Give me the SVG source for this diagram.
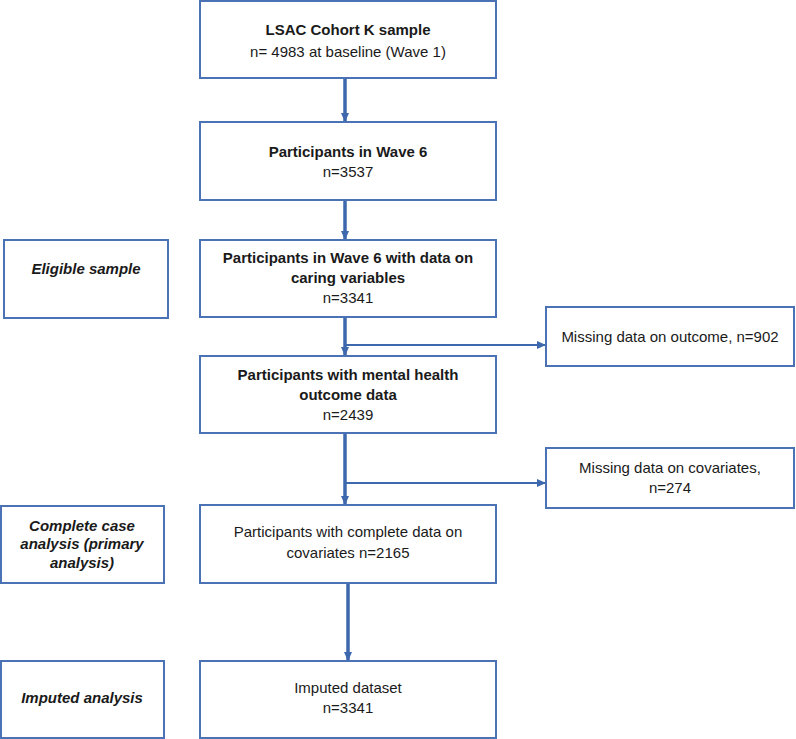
<svg xmlns="http://www.w3.org/2000/svg" width="796" height="739" viewBox="0 0 796 739">
<style>
.box{fill:#fff;stroke:#4a72b5;stroke-width:2}
.t{font-family:"Liberation Sans",Arial,sans-serif;font-size:15px;fill:#1a1a1a;text-anchor:middle}
.b{font-weight:bold}
.i{font-style:italic;font-weight:bold}
.c{stroke:#3e68ad;stroke-width:3.5;fill:none}
.h{stroke-width:2.2}
</style>
<defs>
<marker id="ah" markerUnits="userSpaceOnUse" markerWidth="9" markerHeight="8" refX="8" refY="4" orient="auto">
<path d="M0,0 L9,4 L0,8 z" fill="#3e68ad"/>
</marker>
</defs>
<rect width="796" height="739" fill="#fff"/>
<g id="connectors">
<line class="c" x1="345" y1="78" x2="345" y2="121" marker-end="url(#ah)"/>
<line class="c" x1="345" y1="200" x2="345" y2="239" marker-end="url(#ah)"/>
<line class="c" x1="345" y1="318" x2="345" y2="355" marker-end="url(#ah)"/>
<line class="c h" x1="345" y1="345" x2="545" y2="345" marker-end="url(#ah)"/>
<line class="c" x1="345" y1="433" x2="345" y2="504" marker-end="url(#ah)"/>
<line class="c h" x1="345" y1="483" x2="545" y2="483" marker-end="url(#ah)"/>
<line class="c" x1="348" y1="583" x2="348" y2="660" marker-end="url(#ah)"/>
</g>
<g id="n1"><rect class="box" x="200" y="1" width="296" height="77"/>
<text class="t b" x="348" y="35">LSAC Cohort K sample</text>
<text class="t" x="348" y="57">n= 4983 at baseline (Wave 1)</text></g>
<g id="n2"><rect class="box" x="200" y="122" width="296" height="78"/>
<text class="t b" x="348" y="157">Participants in Wave 6</text>
<text class="t" x="348" y="177">n=3537</text></g>
<g id="n3"><rect class="box" x="200" y="240" width="296" height="77"/>
<text class="t b" x="348" y="263">Participants in Wave 6 with data on</text>
<text class="t b" x="348" y="283">caring variables</text>
<text class="t" x="348" y="303">n=3341</text></g>
<g id="eligible"><rect class="box" x="4" y="240" width="164" height="78"/>
<text class="t i" x="86" y="274">Eligible sample</text></g>
<g id="n4"><rect class="box" x="200" y="356" width="296" height="77"/>
<text class="t b" x="348" y="380">Participants with mental health</text>
<text class="t b" x="348" y="400">outcome data</text>
<text class="t" x="348" y="420">n=2439</text></g>
<g id="miss1"><rect class="box" x="546" y="307" width="248" height="59"/>
<text class="t" x="670" y="342">Missing data on outcome, n=902</text></g>
<g id="miss2"><rect class="box" x="546" y="448" width="248" height="60"/>
<text class="t" x="670" y="473">Missing data on covariates,</text>
<text class="t" x="670" y="493">n=274</text></g>
<g id="n5"><rect class="box" x="200" y="505" width="296" height="78"/>
<text class="t" x="348" y="537">Participants with complete data on</text>
<text class="t" x="348" y="558">covariates n=2165</text></g>
<g id="cca"><rect class="box" x="1" y="506" width="163" height="77"/>
<text class="t i" x="82" y="531">Complete case</text>
<text class="t i" x="82" y="549">analysis (primary</text>
<text class="t i" x="82" y="568">analysis)</text></g>
<g id="n6"><rect class="box" x="200" y="661" width="296" height="77"/>
<text class="t" x="348" y="693">Imputed dataset</text>
<text class="t" x="348" y="713">n=3341</text></g>
<g id="imp"><rect class="box" x="1" y="661" width="163" height="77"/>
<text class="t i" x="82" y="703">Imputed analysis</text></g>
</svg>
